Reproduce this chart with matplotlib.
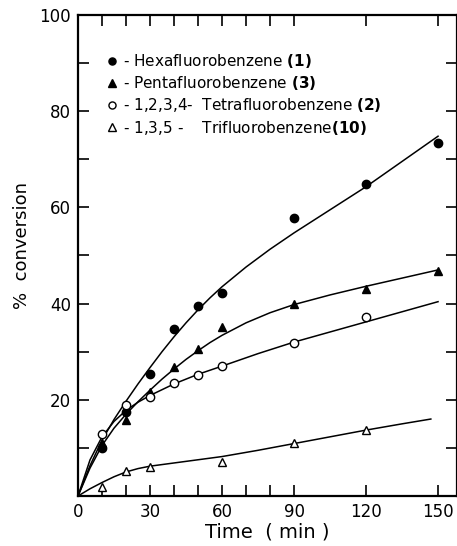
import matplotlib.pyplot as plt

# measured points
t_hexa = [10, 20, 30, 40, 50, 60, 90, 120, 150]
y_hexa = [9.9, 17.5, 25.3, 34.7, 39.4, 42.3, 57.7, 64.9, 73.3]
t_penta = [10, 20, 30, 40, 50, 60, 90, 120, 150]
y_penta = [11.0, 15.8, 21.6, 26.8, 30.5, 35.2, 39.9, 43.0, 46.8]
t_tetra = [10, 20, 30, 40, 50, 60, 90, 120]
y_tetra = [12.9, 18.9, 20.6, 23.5, 25.2, 27.0, 31.8, 37.2]
t_tri = [10, 20, 30, 60, 90, 120]
y_tri = [1.9, 5.2, 6.0, 7.1, 11.0, 13.7]

# hand-drawn fit curves
ct_hexa = [0, 5, 10, 15, 20, 25, 30, 35, 40, 45, 50, 55, 60, 70, 80, 90, 100, 110, 120, 130, 140, 150]
cy_hexa = [0, 6.3, 11.6, 15.9, 19.7, 23.3, 26.7, 30.0, 33.1, 36.0, 38.7, 41.2, 43.5, 47.6, 51.3,
           54.7, 57.9, 61.1, 64.3, 67.8, 71.3, 74.8]
ct_penta = [0, 5, 10, 15, 20, 25, 30, 35, 40, 45, 50, 55, 60, 70, 80, 90, 105, 120, 135, 150]
cy_penta = [0, 5.8, 10.5, 14.1, 17.0, 19.6, 22.0, 24.3, 26.4, 28.4, 30.2, 31.9, 33.4, 36.0, 38.1,
            39.8, 41.8, 43.6, 45.3, 47.0]
ct_tetra = [0, 5, 10, 15, 20, 25, 30, 40, 50, 60, 75, 90, 105, 120, 135, 150]
cy_tetra = [0, 7.5, 12.3, 15.5, 17.8, 19.5, 20.9, 23.3, 25.3, 27.0, 29.6, 32.0, 34.1, 36.2, 38.3, 40.4]
ct_tri = [0, 5, 10, 15, 20, 25, 30, 45, 60, 75, 90, 105, 120, 135, 147]
cy_tri = [0, 1.5, 2.8, 4.0, 5.0, 5.7, 6.2, 7.2, 8.2, 9.5, 10.9, 12.3, 13.7, 15.0, 16.0]

labels = [r'- Hexafluorobenzene $\mathbf{(1)}$',
          r'- Pentafluorobenzene $\mathbf{(3)}$',
          r'- 1,2,3,4-  Tetrafluorobenzene $\mathbf{(2)}$',
          r'- 1,3,5 -    Trifluorobenzene$\mathbf{(10)}$']

xticks = [0, 10, 20, 30, 40, 50, 60, 70, 80, 90, 120, 150]
xticklabels = ['0', '', '', '30', '', '', '60', '', '', '90', '120', '150']
yticks = [0, 10, 20, 30, 40, 50, 60, 70, 80, 90, 100]
yticklabels = ['', '', '20', '', '40', '', '60', '', '80', '', '100']

fig = plt.figure(figsize=(4.57, 5.46), dpi=100)
ax = fig.add_axes([78/457, 50/546, 1 - 78/457, 481/546])

for ct, cy in [(ct_hexa, cy_hexa), (ct_penta, cy_penta), (ct_tetra, cy_tetra), (ct_tri, cy_tri)]:
    ax.plot(ct, cy, '-', color='black', linewidth=1.1)

ax.plot(t_hexa, y_hexa, 'o', color='black', markersize=6, label=labels[0])
ax.plot(t_penta, y_penta, '^', color='black', markersize=6, label=labels[1])
ax.plot(t_tetra, y_tetra, 'o', color='black', mfc='white', markersize=6, mew=1.0, label=labels[2])
ax.plot(t_tri, y_tri, '^', color='black', mfc='white', markersize=6, mew=1.0, label=labels[3])

ax.set_xlim(0, 157.9)
ax.set_ylim(0, 100)
ax.set_xticks(xticks)
ax.set_xticklabels(xticklabels)
ax.set_yticks(yticks)
ax.set_yticklabels(yticklabels)
ax.tick_params(direction='in', length=8, width=1.2, labelsize=12, top=True, right=True, pad=5)

for s in ax.spines.values():
    s.set_linewidth(1.6)

ax.set_xlabel('Time  ( min )', fontsize=14, labelpad=1)
ax.set_ylabel('%  conversion', fontsize=13)
ax.yaxis.set_label_coords(-0.125, 0.52)

ax.legend(loc='upper left', bbox_to_anchor=(0.062, 0.936), frameon=False, fontsize=11,
          handlelength=0.6, handletextpad=0.4, labelspacing=0.28, borderaxespad=0,
          markerscale=0.85)

plt.savefig('out.png', dpi=100)
